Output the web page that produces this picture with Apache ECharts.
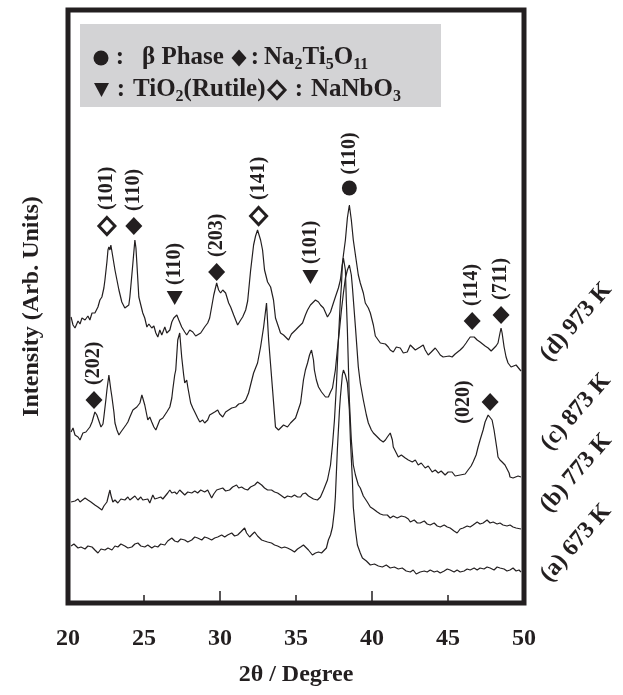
<!DOCTYPE html>
<html>
	<head>
		<meta charset="utf-8">
		<title>XRD</title>
		<script src="https://cdn.jsdelivr.net/npm/echarts/dist/echarts.min.js"></script>
		<style>
			html,body{margin:0;padding:0;background:#fff;}
			.chart{width:623px;height:695px;}
		</style>
	</head>
	<body>
		<div class="chart"></div>
		<script>
			// 2theta (deg), intensity (arb.)
			var curveD = [[20.20,285],[20.33,277],[20.46,274],[20.66,281],[20.79,278],[20.92,284],[21.12,282],[21.31,286],[21.44,282],[21.58,289],[21.77,289],[21.97,295],[22.10,302],[22.23,305],[22.36,314],[22.43,322],[22.56,340],[22.63,352],[22.69,355],[22.76,352],[22.82,357],[22.95,345],[23.09,332],[23.22,322],[23.35,312],[23.54,300],[23.74,294],[23.87,292],[24.00,297],[24.07,305],[24.20,327],[24.27,339],[24.40,362],[24.47,354],[24.53,339],[24.66,305],[24.79,297],[24.92,289],[25.05,284],[25.19,275],[25.32,278],[25.51,274],[25.65,276],[25.78,269],[25.91,265],[26.04,272],[26.17,267],[26.37,275],[26.50,269],[26.70,272],[26.83,280],[26.96,284],[27.16,287],[27.29,282],[27.48,275],[27.68,270],[27.81,267],[28.01,272],[28.21,270],[28.40,266],[28.53,264],[28.73,269],[28.86,272],[28.99,275],[29.19,279],[29.32,284],[29.45,295],[29.59,307],[29.78,319],[29.91,312],[30.04,309],[30.18,312],[30.37,309],[30.57,299],[30.70,295],[30.90,287],[31.16,277],[31.36,282],[31.49,285],[31.69,292],[31.82,301],[32.01,331],[32.21,357],[32.34,366],[32.47,372],[32.67,362],[32.80,352],[32.93,332],[33.13,320],[33.33,315],[33.52,302],[33.65,284],[33.85,275],[33.98,269],[34.18,267],[34.31,265],[34.51,262],[34.70,268],[34.97,272],[35.16,275],[35.43,279],[35.62,287],[35.76,292],[35.95,297],[36.08,299],[36.28,302],[36.48,300],[36.61,297],[36.81,294],[37.07,285],[37.27,290],[37.46,299],[37.59,305],[37.79,314],[37.92,322],[38.12,347],[38.25,362],[38.38,384],[38.51,397],[38.64,382],[38.77,362],[38.91,347],[39.10,327],[39.23,319],[39.43,309],[39.56,299],[39.76,294],[39.89,289],[40.09,277],[40.22,266],[40.35,265],[40.55,259],[40.68,257],[40.88,258],[41.07,255],[41.20,252],[41.40,250],[41.60,255],[41.86,254],[42.06,249],[42.32,250],[42.52,257],[42.65,259],[42.85,252],[42.98,250],[43.17,255],[43.37,257],[43.50,252],[43.70,247],[43.90,250],[44.16,254],[44.36,250],[44.49,247],[44.68,245],[44.81,244],[45.08,246],[45.27,245],[45.47,248],[45.60,250],[45.80,252],[46.00,255],[46.19,259],[46.32,262],[46.46,265],[46.59,267],[46.72,265],[46.92,262],[47.11,260],[47.24,259],[47.44,256],[47.64,254],[47.84,251],[47.97,252],[48.16,256],[48.29,259],[48.42,269],[48.49,274],[48.56,269],[48.69,255],[48.82,245],[48.95,239],[49.15,235],[49.28,234],[49.48,237],[49.61,235],[49.80,231]];
			var curveC = [[20.20,170],[20.33,174],[20.46,167],[20.66,165],[20.79,162],[20.98,169],[21.18,170],[21.31,172],[21.44,175],[21.58,180],[21.77,190],[21.90,187],[21.97,185],[22.17,175],[22.30,178],[22.36,185],[22.49,202],[22.56,212],[22.69,227],[22.82,212],[22.89,205],[23.02,190],[23.09,179],[23.22,172],[23.35,167],[23.48,170],[23.61,172],[23.81,177],[23.94,180],[24.07,185],[24.27,192],[24.40,190],[24.53,195],[24.73,199],[24.86,207],[24.92,204],[25.05,197],[25.25,182],[25.38,185],[25.51,180],[25.65,175],[25.78,172],[25.91,177],[26.04,182],[26.24,184],[26.37,187],[26.50,190],[26.70,195],[26.83,204],[26.89,212],[27.02,227],[27.09,232],[27.22,262],[27.35,269],[27.48,245],[27.61,227],[27.68,219],[27.81,222],[27.88,215],[28.07,199],[28.21,194],[28.34,190],[28.53,184],[28.67,180],[28.86,182],[28.99,179],[29.19,182],[29.32,187],[29.45,185],[29.65,190],[29.85,192],[29.98,188],[30.18,185],[30.37,190],[30.57,192],[30.77,194],[31.03,195],[31.23,198],[31.49,199],[31.69,202],[31.88,209],[32.01,217],[32.21,229],[32.34,234],[32.47,239],[32.67,255],[32.87,275],[33.06,299],[33.20,262],[33.33,237],[33.46,212],[33.65,175],[33.85,172],[33.98,172],[34.18,177],[34.44,175],[34.64,179],[34.77,179],[34.97,184],[35.10,185],[35.30,199],[35.49,222],[35.62,232],[35.76,239],[35.89,247],[36.02,252],[36.15,242],[36.21,232],[36.34,222],[36.48,215],[36.68,210],[36.81,209],[36.94,205],[37.13,205],[37.27,210],[37.40,214],[37.59,232],[37.72,252],[37.86,272],[37.99,292],[38.12,309],[38.25,324],[38.38,332],[38.51,337],[38.64,327],[38.71,315],[38.91,275],[39.10,235],[39.23,219],[39.43,202],[39.63,187],[39.76,179],[39.96,172],[40.09,169],[40.29,166],[40.42,165],[40.55,162],[40.74,160],[40.88,162],[41.01,165],[41.20,169],[41.34,162],[41.40,155],[41.60,149],[41.73,145],[41.93,147],[42.19,144],[42.39,142],[42.65,140],[42.85,142],[43.04,137],[43.24,139],[43.50,134],[43.70,136],[43.96,130],[44.16,132],[44.36,129],[44.55,131],[44.81,127],[45.01,130],[45.27,130],[45.47,126],[45.60,125],[45.80,127],[45.93,125],[46.13,128],[46.32,132],[46.52,136],[46.65,140],[46.85,147],[46.98,155],[47.11,162],[47.31,172],[47.44,180],[47.64,187],[47.77,185],[47.90,182],[48.03,172],[48.10,165],[48.23,152],[48.29,145],[48.42,142],[48.56,140],[48.75,137],[48.88,135],[49.02,129],[49.08,125],[49.28,124],[49.41,124],[49.61,126],[49.80,125]];
			var curveB = [[20.20,100],[20.33,102],[20.46,101],[20.66,103],[20.79,100],[20.92,99],[21.12,104],[21.31,102],[21.51,100],[21.64,99],[21.77,97],[21.97,95],[22.10,94],[22.23,92],[22.36,96],[22.56,100],[22.69,108],[22.76,112],[22.82,107],[22.95,100],[23.09,102],[23.28,99],[23.48,103],[23.61,101],[23.74,102],[23.94,105],[24.07,102],[24.20,104],[24.40,106],[24.60,102],[24.79,105],[24.92,102],[25.05,104],[25.25,103],[25.38,99],[25.58,107],[25.71,103],[25.91,104],[26.10,105],[26.24,103],[26.37,104],[26.56,109],[26.70,112],[26.83,109],[27.02,110],[27.16,108],[27.35,112],[27.48,110],[27.68,107],[27.88,110],[28.14,109],[28.34,111],[28.53,109],[28.73,112],[28.99,110],[29.19,112],[29.32,108],[29.45,104],[29.59,108],[29.78,112],[29.98,113],[30.18,114],[30.37,111],[30.63,112],[30.83,115],[31.09,117],[31.23,114],[31.42,115],[31.62,113],[31.82,112],[32.01,115],[32.14,116],[32.28,117],[32.47,120],[32.60,122],[32.74,117],[32.93,114],[33.13,112],[33.39,112],[33.59,110],[33.79,109],[33.98,107],[34.25,104],[34.44,106],[34.70,105],[34.90,107],[35.10,105],[35.30,105],[35.43,108],[35.62,109],[35.82,106],[35.95,104],[36.15,103],[36.41,102],[36.61,105],[36.81,112],[36.94,117],[37.07,122],[37.27,137],[37.40,157],[37.53,182],[37.66,217],[37.79,262],[37.92,302],[37.99,317],[38.05,337],[38.12,344],[38.18,344],[38.25,332],[38.31,302],[38.38,272],[38.51,202],[38.64,162],[38.77,137],[38.91,127],[39.10,117],[39.23,114],[39.43,106],[39.69,100],[39.89,95],[40.09,93],[40.35,90],[40.55,88],[40.74,87],[41.01,87],[41.20,84],[41.40,86],[41.66,84],[41.93,86],[42.19,85],[42.39,83],[42.52,80],[42.78,82],[42.98,79],[43.17,79],[43.44,81],[43.63,78],[43.83,77],[44.09,79],[44.29,76],[44.49,75],[44.75,77],[44.95,75],[45.14,74],[45.40,71],[45.60,69],[45.80,73],[46.00,74],[46.26,76],[46.46,75],[46.65,77],[46.92,80],[47.11,78],[47.31,79],[47.57,82],[47.77,79],[47.97,80],[48.23,78],[48.42,79],[48.62,77],[48.88,76],[49.08,77],[49.28,75],[49.48,74],[49.61,72],[49.80,73]];
			var curveA = [[20.20,56],[20.39,58],[20.66,54],[20.85,55],[21.12,53],[21.31,56],[21.58,55],[21.77,52],[21.97,49],[22.17,53],[22.43,52],[22.63,54],[22.89,52],[23.09,56],[23.28,55],[23.48,58],[23.74,56],[23.94,54],[24.20,55],[24.40,58],[24.60,59],[24.79,56],[25.05,55],[25.25,57],[25.51,54],[25.71,56],[25.91,55],[26.10,58],[26.37,57],[26.56,61],[26.83,64],[27.02,61],[27.22,60],[27.42,63],[27.68,62],[27.88,60],[28.14,62],[28.34,65],[28.53,64],[28.80,62],[28.99,65],[29.19,64],[29.45,62],[29.65,64],[29.85,65],[30.11,67],[30.31,65],[30.50,67],[30.77,69],[30.96,66],[31.16,67],[31.36,70],[31.49,72],[31.62,74],[31.75,69],[31.95,65],[32.14,68],[32.28,70],[32.47,66],[32.74,62],[32.93,61],[33.13,60],[33.39,59],[33.59,57],[33.79,56],[34.05,54],[34.25,55],[34.44,54],[34.70,52],[34.90,50],[35.10,53],[35.30,55],[35.49,57],[35.62,59],[35.82,52],[36.08,47],[36.28,49],[36.48,50],[36.68,49],[36.81,50],[37.00,54],[37.13,62],[37.27,67],[37.40,75],[37.53,92],[37.59,105],[37.72,152],[37.86,192],[37.92,205],[38.05,227],[38.12,232],[38.25,227],[38.38,219],[38.51,192],[38.58,162],[38.71,122],[38.77,95],[38.91,72],[39.04,57],[39.23,49],[39.37,44],[39.63,41],[39.89,37],[40.16,38],[40.42,36],[40.68,35],[40.94,37],[41.20,34],[41.47,35],[41.73,33],[41.99,34],[42.25,31],[42.52,30],[42.71,32],[42.91,28],[43.17,30],[43.44,31],[43.63,30],[43.83,32],[44.09,30],[44.29,31],[44.49,29],[44.75,31],[44.95,33],[45.14,32],[45.40,30],[45.60,32],[45.80,30],[46.06,31],[46.26,33],[46.46,32],[46.72,34],[46.92,32],[47.11,34],[47.37,33],[47.57,35],[47.77,34],[48.03,32],[48.23,35],[48.42,34],[48.69,33],[48.88,31],[49.08,32],[49.28,34],[49.48,31],[49.67,32],[49.80,30]];

			// peak marks: [2theta, height, hkl]
			var betaPeaks = [[38.51,414,'(110)']];
			var titanatePeaks = [[24.33,376,'(110)'],[29.78,330,'(203)'],[46.59,281,'(114)'],[48.49,287,'(711)'],[21.71,202,'(202)']];
			var titanateSide = [[47.77,200,'(020)']];
			var rutilePeaks = [[27.02,304,'(110)'],[35.95,325,'(101)']];
			var niobatePeaks = [[22.56,376,'(101)'],[32.54,386,'(141)']];

			var sampleLabels = ['(d) 973 K','(c) 873 K','(b) 773 K','(a) 673 K'];
			var sampleLabelY = [322,412,473,543];
			var xTicks = [20,25,30,35,40,45,50];

			var ink = '#231f20';
			var serif = 'Liberation Serif';
			var myChart = echarts.init(document.querySelector('.chart'));

			function trace(d){
				return {type:'line',data:d,symbol:'none',silent:true,
					lineStyle:{color:ink,width:1.2}};
			}
			var tagUp = {show:true,position:'top',distance:6,rotate:90,align:'left',verticalAlign:'middle',
				formatter:function(p){return p.data[2];},
				fontFamily:serif,fontWeight:'bold',fontSize:20,color:ink};
			var tagLeft = {show:true,position:'left',distance:8,rotate:90,align:'center',verticalAlign:'bottom',
				formatter:function(p){return p.data[2];},
				fontFamily:serif,fontWeight:'bold',fontSize:20,color:ink};
			function marks(d,sym,size,style,lab,rot){
				style.opacity = 1;
				return {type:'scatter',data:d,symbol:sym,symbolSize:size,symbolRotate:rot||0,
					itemStyle:style,label:lab,z:5,silent:true};
			}

			var leg = [];
			leg.push({type:'rect',shape:{x:80,y:24,width:361,height:83},style:{fill:'#d3d3d5'}});
			leg.push({type:'circle',shape:{cx:101,cy:58,r:7.5},style:{fill:ink}});
			leg.push({type:'polygon',shape:{points:[[239,49.5],[246.5,58],[239,66.5],[231.5,58]]},style:{fill:ink}});
			leg.push({type:'polygon',shape:{points:[[94,83],[109,83],[101.5,97]]},style:{fill:ink}});
			leg.push({type:'polygon',shape:{points:[[277,81.5],[285,90],[277,98.5],[269,90]]},style:{fill:'none',stroke:ink,lineWidth:3}});
			var legText = [
				[120,58,':'],[142,58,'β Phase'],[255,58,':'],[264,58,'Na{s|2}Ti{s|5}O{s|11}'],
				[121,90,':'],[133,90,'TiO{s|2}(Rutile)'],[299,90,':'],[311,90,'NaNbO{s|3}']
			];
			legText.forEach(function(t){
				leg.push({type:'text',x:t[0],y:t[1],style:{text:t[2],fill:ink,font:'bold 25px "'+serif+'"',
					lineHeight:29,textAlign:t[2]==':'?'center':'left',textVerticalAlign:'middle',
					rich:{s:{fontFamily:serif,fontWeight:'bold',fontSize:16,fill:ink,verticalAlign:'bottom',lineHeight:6}}}});
			});
			sampleLabels.forEach(function(s,i){
				leg.push({type:'text',x:576,y:sampleLabelY[i],rotation:0.855,
					style:{text:s,fill:ink,font:'bold 24px "'+serif+'"',textAlign:'center',textVerticalAlign:'middle'}});
			});

			myChart.setOption({
				animation:false,
				backgroundColor:'#fff',
				grid:{left:68,right:99,top:10,bottom:92,show:true,borderColor:ink,borderWidth:5,backgroundColor:'transparent'},
				xAxis:[{
					type:'value',min:20,max:50,interval:5,
					name:'2θ / Degree',nameLocation:'middle',nameGap:60,
					nameTextStyle:{fontFamily:serif,fontWeight:'bold',fontSize:24,color:ink},
					axisLine:{show:false},splitLine:{show:false},
					axisTick:{show:true,inside:true,length:7,lineStyle:{color:ink,width:1.5}},
					axisLabel:{margin:24,fontFamily:serif,fontWeight:'bold',fontSize:24,color:ink,
						customValues:xTicks}
				},{
					type:'value',min:20,max:50,interval:10,position:'bottom',
					axisLine:{show:false},splitLine:{show:false},axisLabel:{show:false},
					axisTick:{show:true,inside:true,length:12,lineStyle:{color:ink,width:1.5}}
				}],
				yAxis:{
					type:'value',min:-1,max:592,
					name:'Intensity (Arb. Units)',nameLocation:'middle',nameGap:24,nameRotate:90,
					nameTextStyle:{fontFamily:serif,fontWeight:'bold',fontSize:24,color:ink},
					axisLine:{show:false},axisTick:{show:false},axisLabel:{show:false},splitLine:{show:false}
				},
				graphic:leg,
				series:[
					trace(curveD),trace(curveC),trace(curveB),trace(curveA),
					marks(betaPeaks,'circle',15,{color:ink},tagUp),
					marks(titanatePeaks,'diamond',[17,18],{color:ink},tagUp),
					marks(titanateSide,'diamond',[17,18],{color:ink},tagLeft),
					marks(rutilePeaks,'triangle',[16,14],{color:ink},tagUp,180),
					marks(niobatePeaks,'diamond',[16,17],{color:'#fff',borderColor:ink,borderWidth:3},tagUp)
				]
			});
		</script>
	</body>
</html>
